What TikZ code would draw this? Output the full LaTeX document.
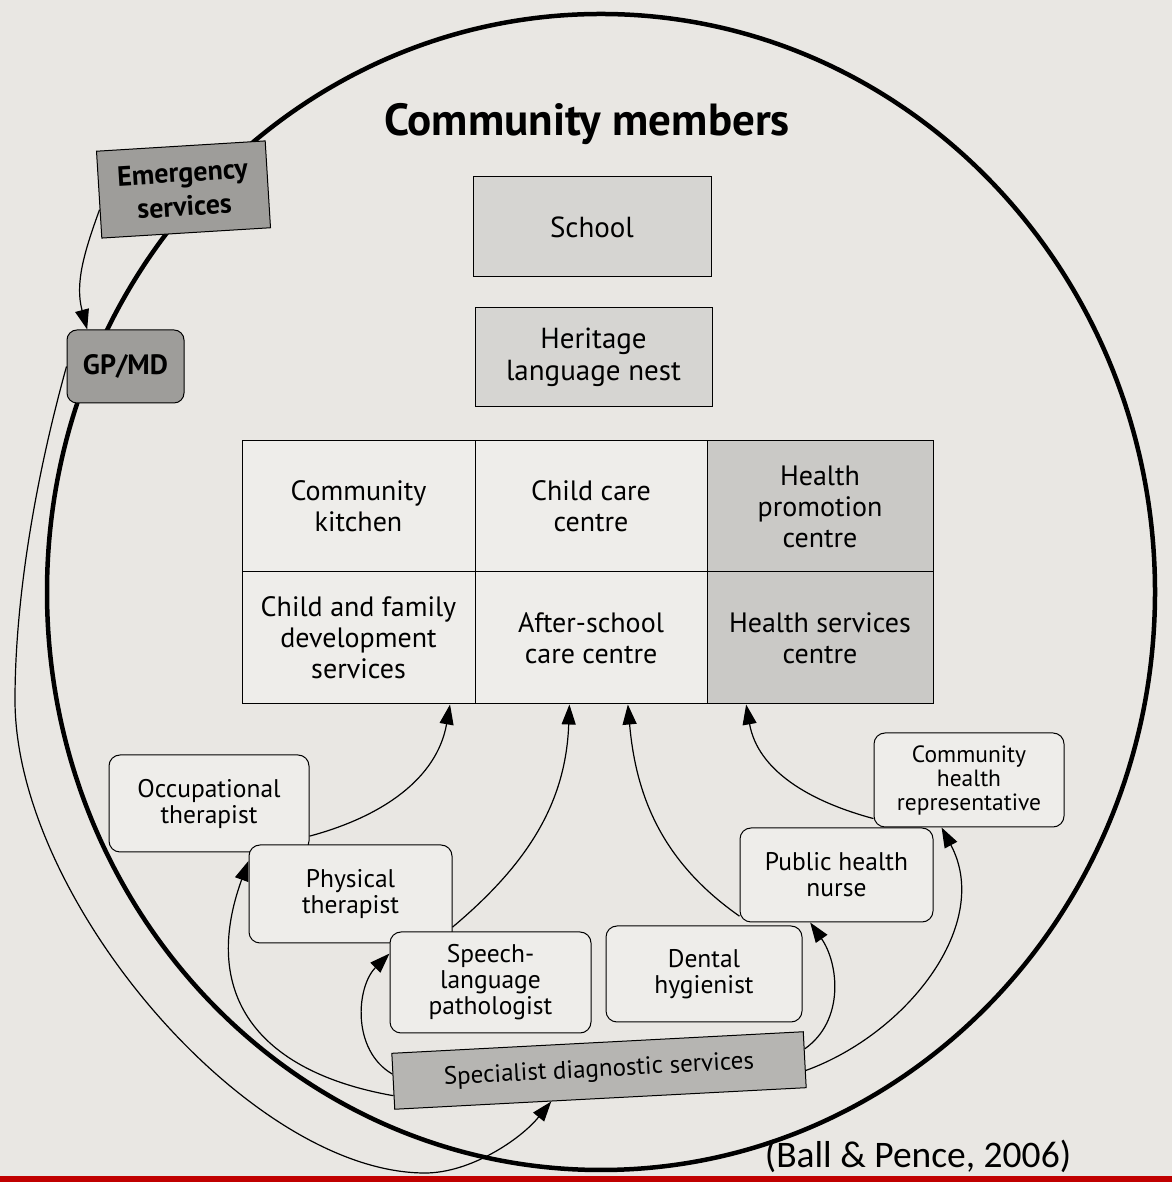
\documentclass[tikz,border=0pt]{standalone}
\usepackage{fontspec}
\setmainfont{PT Sans}
\newfontfamily\calib{Carlito}
\usetikzlibrary{arrows.meta}
\definecolor{paper}{RGB}{233,231,227}
\definecolor{cellfill}{RGB}{238,237,234}
\definecolor{boxgray}{RGB}{214,213,210}
\definecolor{healthgray}{RGB}{202,201,198}
\definecolor{servgray}{RGB}{158,157,154}
\definecolor{specgray}{RGB}{182,181,178}
\definecolor{barred}{RGB}{192,0,0}
\begin{document}
\begin{tikzpicture}[x=1pt,y=1pt,>={Triangle[length=20pt,width=14pt]},
	cell/.style={draw,line width=1pt,minimum height=131pt,inner sep=0pt,align=center,fill=cellfill,font=\fontsize{28}{31}\selectfont},
	grey/.style={draw,line width=1pt,fill=boxgray,inner sep=0pt,align=center,font=\fontsize{29}{32}\selectfont},
	prof/.style={draw,line width=1pt,rounded corners=11pt,fill=cellfill,inner sep=0pt,align=center,font=\fontsize{25.5}{26}\selectfont},
	serv/.style={draw,line width=1pt,fill=servgray,inner sep=0pt,align=center,font=\fontsize{28}{34}\selectfont\bfseries},
	link/.style={->,line width=1.2pt}]
	\fill[paper] (0,0) rectangle (1172,1182);
	\useasboundingbox (0,0) rectangle (1172,1182);
	\draw[line width=4.5pt] (601,590) ellipse [x radius=554pt, y radius=578pt]; %circle
	
	\node[font=\fontsize{45}{45}\selectfont\bfseries,anchor=base] (title) at (587,1046) {Community members};
	\node[grey,minimum width=238pt,minimum height=100pt] (school) at (592,955) {School};
	\node[grey,minimum width=237pt,minimum height=99pt] (nest) at (593.5,824.5) {Heritage\\language nest};
	
	\node[cell,minimum width=233pt] (ck) at (358.5,675.5) {Community\\kitchen};
	\node[cell,minimum width=232pt] (cc) at (591,675.5) {Child care\\centre};
	\node[cell,minimum width=226pt,fill=healthgray] (hp) at (820,675.5) {Health\\promotion\\centre};
	\node[cell,minimum width=233pt,minimum height=132pt] (cf) at (358.5,544) {Child and family\\development\\services};
	\node[cell,minimum width=232pt,minimum height=132pt] (as) at (591,544) {After-school\\care centre};
	\node[cell,minimum width=226pt,minimum height=132pt,fill=healthgray] (hs) at (820,544) {Health services\\centre};
	
	\node[serv,minimum width=169pt,minimum height=87pt,rotate=3.5] (em) at (183.5,992.5) {Emergency\\services};
	\node[serv,minimum width=117pt,minimum height=73pt,rounded corners=10pt] (gp) at (125.5,815.5) {GP/MD};
	
	\node[prof,minimum width=200pt,minimum height=97pt] (ot) at (209,378.5) {Occupational\\therapist};
	\node[prof,minimum width=203pt,minimum height=98pt] (pt) at (350.5,288) {Physical\\therapist};
	\node[prof,minimum width=201pt,minimum height=101pt] (slp) at (490.5,199.5) {Speech-\\language\\pathologist};
	\node[prof,minimum width=196pt,minimum height=96pt] (dh) at (704,208) {Dental\\hygienist};
	\node[prof,minimum width=193pt,minimum height=94pt] (phn) at (836.5,307) {Public health\\nurse};
	\node[prof,minimum width=190pt,minimum height=94pt,font=\fontsize{23.5}{24}\selectfont] (chr) at (969,402) {Community\\health\\representative};
	\node[serv,fill=specgray,minimum width=412pt,minimum height=56pt,rotate=3,font=\fontsize{25}{26}\selectfont] (spec) at (599,111.5) {Specialist diagnostic services};
	
	\draw[link] (em.190) to[out=-110,in=105] (gp.136); %referral
	\draw[link] (gp.west) .. controls (35,702) and (15,582) .. (15,482)
		.. controls (15,282) and (250,9) .. (425,9)
		.. controls (470,9) and (520,42) .. (spec.-150); %outer
	\draw[link] (ot.-18) to[out=15,in=-100] (cf.-36);
	\draw[link] (pt.-18) to[out=40,in=-92] (as.-108);
	\draw[link] (spec.184) to[out=170,in=-110,looseness=1.3] (pt.162);
	\draw[link] (spec.178) to[out=150,in=-135] (slp.164);
	\draw[link] (phn.203) to[out=145,in=-85] (as.-61);
	\draw[link] (chr.202) to[out=165,in=-80] (hs.-138);
	\draw[link] (spec.3) to[out=35,in=-55] (phn.-119);
	\draw[link] (spec.-3) to[out=20,in=-62] (chr.-120);
	
	\node[font=\calib\fontsize{37.5}{37.5}\selectfont,anchor=base] (cite) at (918,14) {(Ball \& Pence, 2006)};
	\fill[barred] (0,0) rectangle (1172,6);
\end{tikzpicture}
\end{document}
